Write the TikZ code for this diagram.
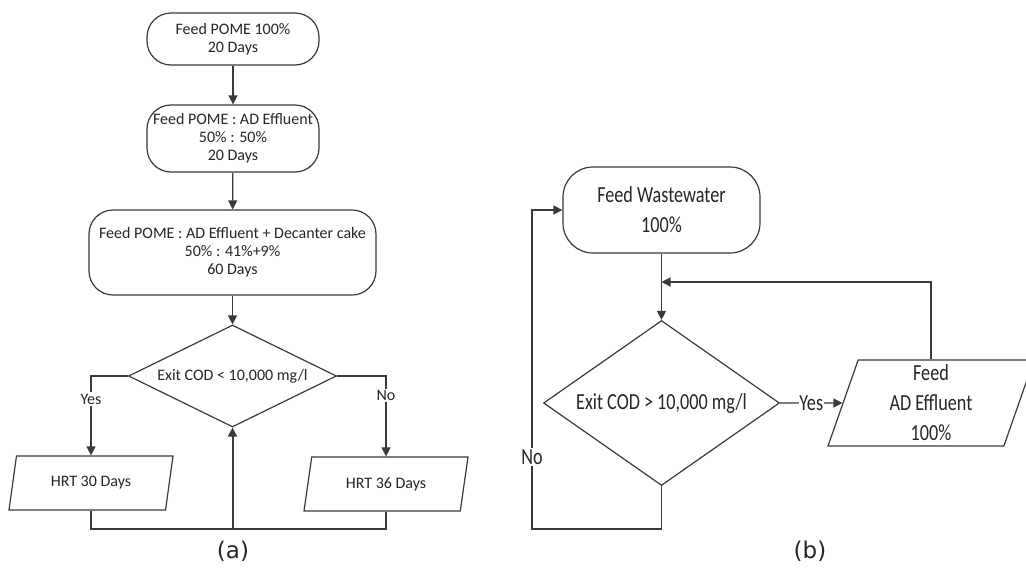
\documentclass[tikz,border=0pt]{standalone}
\usepackage{fontspec}
\setmainfont{Carlito}
\newfontfamily\cond[FakeStretch=0.79]{Carlito}
\newfontfamily\capfont{DejaVu Sans}
\usetikzlibrary{shapes.geometric,arrows.meta}
\definecolor{ln}{HTML}{3A3A3A}
\definecolor{tx}{HTML}{262626}
\tikzset{
  every node/.style={text=tx},
  fa/.style={font=\fontsize{16}{18}\selectfont},
  fb/.style={font=\cond\fontsize{23}{30}\selectfont},
  fc/.style={font=\capfont\fontsize{23}{26}\selectfont},
  conn/.style={draw=ln,line width=1.2pt},
  arr/.style={conn,-{Triangle[length=9pt,width=9pt]}},
  rbox/.style={draw=ln,line width=1.2pt,rounded corners=24pt,align=center,inner sep=0pt},
  dia/.style={draw=ln,line width=1.2pt,diamond,inner sep=0pt,aspect=2},
  para/.style={draw=ln,line width=1.2pt,trapezium,trapezium stretches body=true,inner sep=0pt,align=center},
  lbl/.style={fill=white,inner sep=1.5pt}
}
\begin{document}
\begin{tikzpicture}[x=1pt,y=-1pt]
\useasboundingbox[fill=white] (0,0) rectangle (1026,568);
\begin{scope}
\clip (0,0) rectangle (1026,568);
% ---------- (a) ----------
\node[rbox,fa,minimum width=172pt,minimum height=52pt] (a1) at (233,39) {Feed POME 100\%\\20 Days};
\node[rbox,fa,minimum width=172pt,minimum height=67pt] (a2) at (233,138.5) {Feed POME : AD Effluent\\50\% : 50\%\\20 Days};
\node[rbox,fa,minimum width=287pt,minimum height=85pt] (a3) at (232.5,252.5) {Feed POME : AD Effluent + Decanter cake\\50\% : 41\%+9\%\\60 Days};
\node[dia,fa,minimum width=208pt,minimum height=102pt] (ad) at (232.5,376) {Exit COD < 10,000 mg/l};
\node[para,fa,trapezium left angle=60,trapezium right angle=120,minimum width=164pt,minimum height=54pt] (ap1) at (91,483) {HRT 30 Days};
\node[para,fa,trapezium left angle=60,trapezium right angle=120,minimum width=164pt,minimum height=54pt] (ap2) at (386,484) {HRT 36 Days};
\coordinate (abot) at (232.5,529);
\draw[arr] (a1) -- (a2);
\draw[arr] (a2) -- (a3);
\draw[arr] (a3) -- (ad);
\draw[arr] (ad.west) -| node[pos=0.645,lbl,fa]{Yes} (ap1.north);
\draw[arr] (ad.east) -| node[pos=0.62,lbl,fa]{No} (ap2.north);
\draw[conn] (ap1.south) |- (abot) -| (ap2.south);
\draw[arr,line width=2pt] (abot) -- (ad.south);
\node[fc] (la) at (233,551) {(a)};
% ---------- (b) ----------
\node[rbox,fb,rounded corners=30pt,minimum width=197pt,minimum height=86pt] (bw) at (661.5,210) {Feed Wastewater\\100\%};
\node[dia,fb,minimum width=236pt,minimum height=165pt] (bd) at (661.5,403) {Exit COD > 10,000 mg/l};
\node[para,fb,trapezium left angle=68.4,trapezium right angle=111.6,minimum width=206pt,minimum height=86pt] (bp) at (931,403) {Feed\\AD Effluent\\100\%};
\coordinate (bj) at (661.5,282);
\coordinate (bl) at (532,529);
\draw[arr] (bw) -- (bd);
\draw[arr] (bp.north) |- (bj);
\draw[arr] (bd.east) -- node[lbl,fb,inner sep=0.5pt]{Yes} (bp.west);
\draw[arr] (bd.south) |- (bl) -- node[pos=0.226,lbl,fb]{No} (bl |- bw.west) -- (bw.west);
\node[fc] (lb) at (810,551) {(b)};
\end{scope}
\end{tikzpicture}
\end{document}
